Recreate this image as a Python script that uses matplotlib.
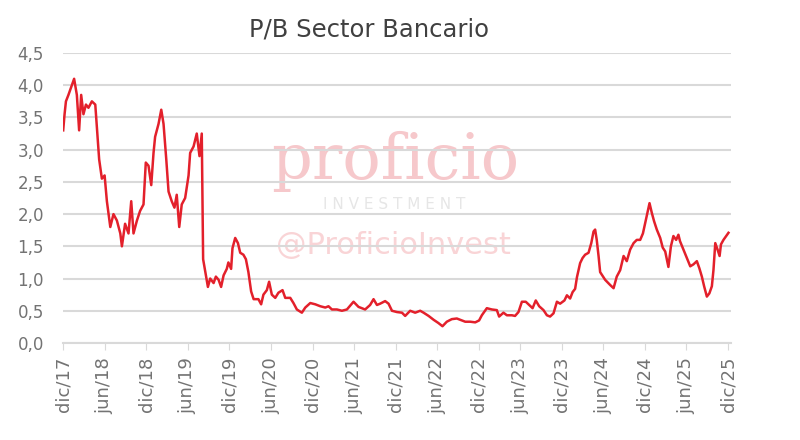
import pandas as pd
import matplotlib.pyplot as plt

plt.rcParams['font.family'] = ['DejaVu Sans']

# P/B del sector bancario
fechas = [
    "2017-12-01", "2017-12-07", "2017-12-13", "2017-12-24", "2018-01-08", "2018-01-18",
    "2018-01-30", "2018-02-09", "2018-02-18", "2018-02-28", "2018-03-11", "2018-03-22",
    "2018-04-06", "2018-04-21", "2018-04-28", "2018-05-08", "2018-05-20", "2018-06-01",
    "2018-06-11", "2018-06-26", "2018-07-10", "2018-07-25", "2018-08-09", "2018-08-16",
    "2018-08-30", "2018-09-14", "2018-09-26", "2018-10-06", "2018-10-21", "2018-11-04",
    "2018-11-19", "2018-11-29", "2018-12-11", "2018-12-23", "2019-01-02", "2019-01-09",
    "2019-01-24", "2019-02-05", "2019-02-15", "2019-02-27", "2019-03-09", "2019-03-23",
    "2019-04-04", "2019-04-14", "2019-04-25", "2019-05-06", "2019-05-21", "2019-06-05",
    "2019-06-12", "2019-06-27", "2019-07-11", "2019-07-23", "2019-08-02", "2019-08-08",
    "2019-08-29", "2019-09-08", "2019-09-23", "2019-10-03", "2019-10-15", "2019-10-26",
    "2019-11-06", "2019-11-20", "2019-11-27", "2019-12-09", "2019-12-15", "2019-12-27",
    "2020-01-08", "2020-01-18", "2020-02-01", "2020-02-12", "2020-02-23", "2020-03-06",
    "2020-03-17", "2020-04-07", "2020-04-19", "2020-04-29", "2020-05-14", "2020-05-24",
    "2020-06-05", "2020-06-20", "2020-07-04", "2020-07-22", "2020-08-03", "2020-08-25",
    "2020-09-08", "2020-09-23", "2020-10-15", "2020-10-30", "2020-11-21", "2020-12-13",
    "2021-01-04", "2021-01-26", "2021-02-09", "2021-02-24", "2021-03-18", "2021-04-09",
    "2021-05-01", "2021-05-30", "2021-06-21", "2021-07-20", "2021-08-11", "2021-08-26",
    "2021-09-10", "2021-09-24", "2021-10-16", "2021-10-31", "2021-11-15", "2021-12-07",
    "2021-12-29", "2022-01-12", "2022-02-03", "2022-02-25", "2022-03-19", "2022-04-03",
    "2022-04-25", "2022-05-17", "2022-06-07", "2022-06-25", "2022-07-14", "2022-08-05",
    "2022-08-27", "2022-09-11", "2022-10-03", "2022-10-25", "2022-11-16", "2022-12-03",
    "2022-12-15", "2023-01-06", "2023-01-28", "2023-02-19", "2023-03-01", "2023-03-20",
    "2023-04-04", "2023-04-26", "2023-05-10", "2023-05-25", "2023-06-09", "2023-06-26",
    "2023-07-11", "2023-07-26", "2023-08-09", "2023-08-24", "2023-09-12", "2023-09-27",
    "2023-10-11", "2023-10-26", "2023-11-10", "2023-11-24", "2023-12-13", "2023-12-24",
    "2024-01-07", "2024-01-18", "2024-01-29", "2024-02-06", "2024-02-20", "2024-03-02",
    "2024-03-13", "2024-03-28", "2024-04-09", "2024-04-19", "2024-04-26", "2024-05-03",
    "2024-05-11", "2024-05-18", "2024-06-09", "2024-07-01", "2024-07-16", "2024-07-30",
    "2024-08-14", "2024-08-29", "2024-09-12", "2024-09-27", "2024-10-12", "2024-10-26",
    "2024-11-10", "2024-11-22", "2024-12-02", "2024-12-12", "2024-12-21", "2024-12-31",
    "2025-01-10", "2025-01-22", "2025-02-06", "2025-02-17", "2025-02-28", "2025-03-14",
    "2025-03-25", "2025-04-05", "2025-04-17", "2025-04-27", "2025-05-04", "2025-05-19",
    "2025-06-03", "2025-06-18", "2025-07-02", "2025-07-17", "2025-07-28", "2025-08-08",
    "2025-08-18", "2025-08-30", "2025-09-10", "2025-09-21", "2025-09-28", "2025-10-06",
    "2025-10-16", "2025-10-25", "2025-10-31", "2025-11-11", "2025-11-23", "2025-12-03",
]
pb = [
    3.30, 3.55, 3.75, 3.85, 4.00, 4.10,
    3.85, 3.30, 3.85, 3.55, 3.70, 3.65,
    3.75, 3.70, 3.35, 2.85, 2.55, 2.60,
    2.20, 1.80, 2.00, 1.90, 1.70, 1.50,
    1.85, 1.70, 2.20, 1.70, 1.90, 2.05,
    2.15, 2.80, 2.75, 2.45, 2.95, 3.20,
    3.40, 3.62, 3.40, 2.85, 2.35, 2.20,
    2.10, 2.30, 1.80, 2.15, 2.25, 2.60,
    2.95, 3.05, 3.25, 2.90, 3.25, 1.30,
    0.87, 1.00, 0.93, 1.03, 0.98, 0.87,
    1.05, 1.15, 1.25, 1.15, 1.47, 1.63,
    1.55, 1.40, 1.37, 1.30, 1.10, 0.80,
    0.68, 0.68, 0.60, 0.75, 0.82, 0.95,
    0.75, 0.70, 0.78, 0.82, 0.70, 0.70,
    0.62, 0.52, 0.47, 0.55, 0.62, 0.60,
    0.57, 0.55, 0.57, 0.52, 0.52, 0.50,
    0.52, 0.64, 0.56, 0.52, 0.59, 0.68,
    0.59, 0.61, 0.65, 0.61, 0.50, 0.48,
    0.47, 0.42, 0.50, 0.47, 0.50, 0.47,
    0.42, 0.36, 0.31, 0.26, 0.33, 0.37,
    0.38, 0.36, 0.33, 0.33, 0.32, 0.35,
    0.43, 0.54, 0.52, 0.51, 0.41, 0.47,
    0.43, 0.43, 0.42, 0.48, 0.64, 0.64,
    0.59, 0.54, 0.66, 0.57, 0.51, 0.43,
    0.41, 0.46, 0.64, 0.61, 0.66, 0.74,
    0.69, 0.79, 0.84, 1.02, 1.24, 1.32,
    1.37, 1.40, 1.55, 1.73, 1.76, 1.60,
    1.35, 1.10, 0.98, 0.90, 0.85, 1.03,
    1.13, 1.35, 1.27, 1.45, 1.55, 1.60,
    1.60, 1.70, 1.86, 2.02, 2.17, 2.02,
    1.89, 1.76, 1.63, 1.48, 1.42, 1.18,
    1.50, 1.66, 1.60, 1.68, 1.58, 1.45,
    1.32, 1.19, 1.22, 1.27, 1.16, 1.03,
    0.88, 0.72, 0.77, 0.88, 1.13, 1.55,
    1.45, 1.35, 1.53, 1.60, 1.66, 1.71,
]

ticks = pd.date_range("2017-12-01", "2025-12-01", freq="6MS")
meses = {6: "jun", 12: "dic"}
tick_labels = [f"{meses[d.month]}/{d.strftime('%y')}" for d in ticks]

df = pd.DataFrame({"fecha": pd.to_datetime(fechas), "pb": pb})

fig = plt.figure(figsize=(8, 4.4), dpi=100)
ax = fig.add_axes([0.079, 0.2205, 0.835, 0.659])

# marca de agua
ax.text(0.497, 0.565, "proficio", transform=ax.transAxes, ha="center", va="baseline",
        fontsize=46, color="#f6c8cb", family="DejaVu Serif", zorder=0)
ax.text(0.495, 0.478, "I N V E S T M E N T", transform=ax.transAxes, ha="center",
        va="center", fontsize=11, color="#e6e6e6", zorder=0)
ax.text(0.495, 0.335, "@ProficioInvest", transform=ax.transAxes, ha="center",
        va="center", fontsize=22, color="#f9d4d6", zorder=0)

ax.plot(df["fecha"], df["pb"], color="#e3202b", lw=1.8, zorder=3)

ax.set_ylim(0, 4.5)
ax.set_yticks([i * 0.5 for i in range(10)])
ax.set_yticklabels([f"{i * 0.5:.1f}".replace(".", ",") for i in range(10)])
ax.set_xlim(pd.Timestamp("2017-12-01"), pd.Timestamp("2025-12-15"))
ax.set_xticks(ticks)
ax.set_xticklabels(tick_labels, rotation=90)

ax.grid(axis="y", color="#d9d9d9", lw=1.5)
ax.set_axisbelow(True)
for s in ["left", "right", "top"]:
    ax.spines[s].set_visible(False)
ax.spines["bottom"].set_color("#d9d9d9")
ax.spines["bottom"].set_linewidth(1.5)
ax.tick_params(axis="y", length=0, pad=14, labelsize=12, labelcolor="#737373")
ax.tick_params(axis="x", length=5, color="#d9d9d9", pad=5, labelsize=13,
               labelcolor="#737373")

fig.text(0.461, 0.932, "P/B Sector Bancario", ha="center", va="center",
         fontsize=17.5, color="#404040")

fig.savefig("out.png")
